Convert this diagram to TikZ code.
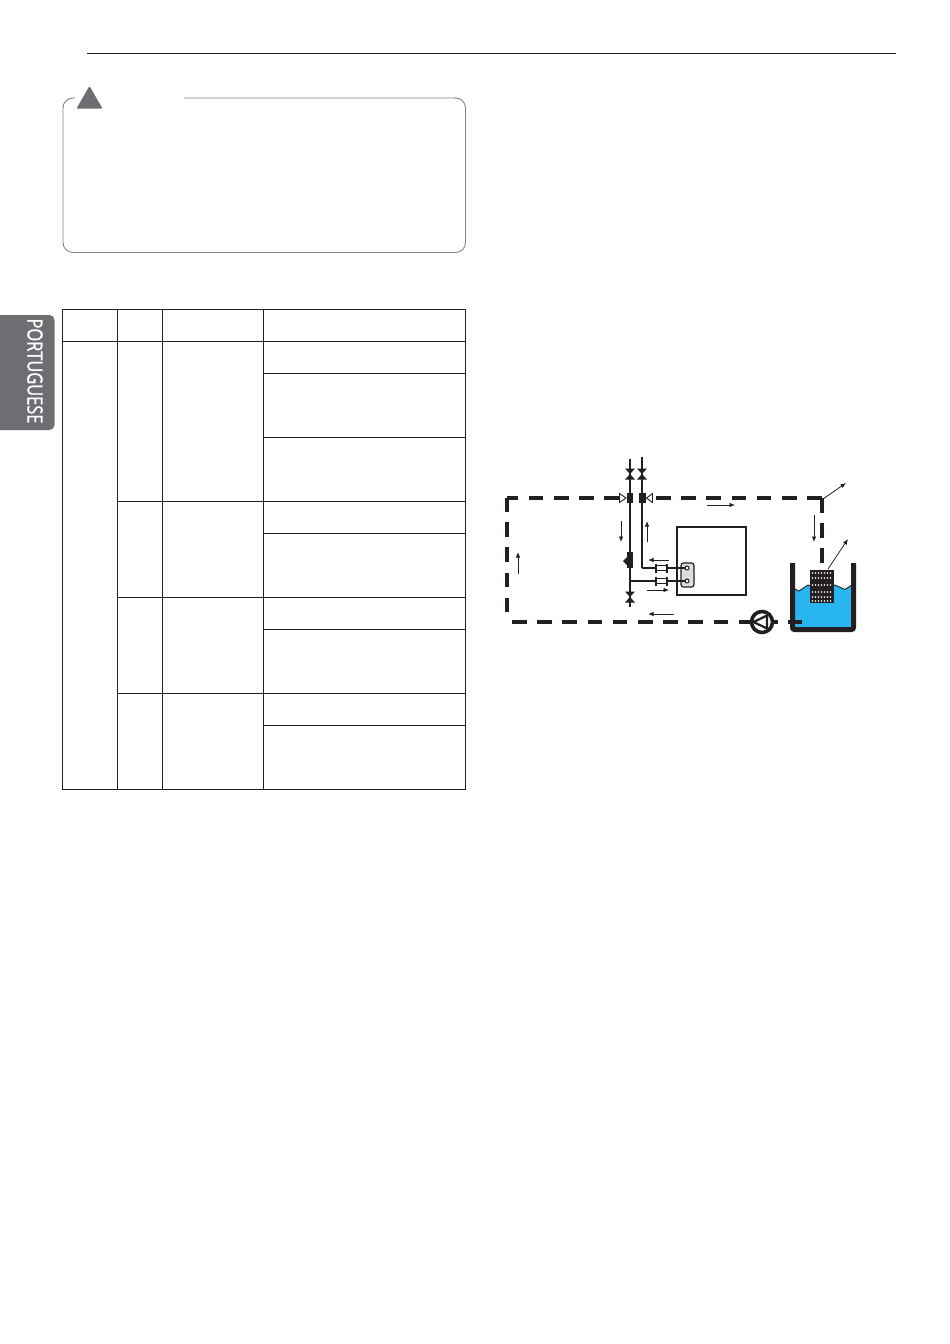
\documentclass[tikz,border=0pt]{standalone}
\usepackage{fontspec}
\setsansfont{Open Sans}
\newfontfamily\tabfont[FakeBold=1.2]{Open Sans}
\definecolor{ink}{HTML}{231F20}
\definecolor{tabgray}{HTML}{6D6E71}
\definecolor{boxdark}{HTML}{808285}
\definecolor{boxlight}{HTML}{D1D3D4}
\definecolor{water}{HTML}{29B6F0}
\usetikzlibrary{arrows.meta}
\tikzset{
  rule/.style={draw=ink,line width=1pt},
  pipe/.style={draw=ink,line width=1.7pt},
  loopline/.style={draw=ink,line width=3.8pt,dash pattern=on 14.6pt off 10.6pt},
  flow/.style={draw=ink,line width=.8pt,-{Latex[length=5.5pt,width=4.5pt]}},
  solidpart/.style={fill=ink,draw=none},
  openvalve/.style={fill=white,draw=ink,line width=.9pt},
}
\begin{document}
\begin{tikzpicture}[x=1pt,y=-1pt]
  \useasboundingbox (0,0) rectangle (950,1344);
  % header and side tab
  \coordinate (ruleL) at (87,53.5);
  \coordinate (ruleR) at (896,53.5);
  \draw[rule] (ruleL) -- (ruleR);
  \fill[tabgray,rounded corners=5] (-8,315) -- (54.5,315) -- (54.5,430) -- (-8,430) -- cycle;
  \node[rotate=-90,text=white,font=\tabfont\fontsize{21}{21}\selectfont] (tab) at (35,371) {\scalebox{.78}[1]{PORTUGUESE}};
  % warning box
  \draw[boxlight,line width=1.4pt] (63,108) -- (63,242);
  \draw[boxlight,line width=1.4pt] (184,98) -- (456,98);
  \draw[boxdark,line width=.9pt,rounded corners=10] (75,98) -- (63,98) -- (63,108);
  \draw[boxdark,line width=.9pt,rounded corners=10] (63,242) -- (63,252.5) -- (465.5,252.5) -- (465.5,98) -- (455,98);
  \fill[tabgray,rounded corners=1] (89.5,86) -- (102.5,108.5) -- (76.5,108.5) -- cycle;
  % table
  \draw[rule] (62.5,309.5) rectangle (465.5,789.5);
  \foreach \colx in {117.5,162.5,263.5} \draw[rule] (\colx,309.5) -- (\colx,789.5);
  \draw[rule] (62.5,341.5) -- (465.5,341.5);
  \foreach \rowy in {501.5,597.5,693.5} \draw[rule] (117.5,\rowy) -- (465.5,\rowy);
  \foreach \rowy in {373.5,437.5,533.5,629.5,725.5} \draw[rule] (263.5,\rowy) -- (465.5,\rowy);
  % water loop
  \coordinate (cornerTL) at (507,498);
  \coordinate (cornerTR) at (822,498);
  \coordinate (leftEnd) at (507,612.6);
  \coordinate (bottomL) at (512,622);
  \coordinate (valveL) at (619,498);
  \coordinate (valveR) at (656,498);
  \coordinate (rightEnd) at (822,563);
  \coordinate (pump) at (762,622);
  \coordinate (pumpOut) at (778,622);
  \coordinate (stubL) at (788,622);
  \coordinate (stubR) at (802,622);
  % tank
  \fill[water] (795,589) -- (799,591) -- (808,585) -- (815,588) -- (825,588) -- (835,585) -- (845,589.5) -- (851,585.5) -- (851,628) -- (795,628) -- cycle;
  \draw[ink,line width=.9pt] (795,589) -- (799,591) -- (808,585) -- (815,588) -- (825,588) -- (835,585) -- (845,589.5) -- (851,585.5);
  \draw[ink,line width=5pt,rounded corners=2] (792.5,563) -- (792.5,629.5) -- (853.5,629.5) -- (853.5,563);
  \fill[ink] (810,570) rectangle (834,603);
  \foreach \doty in {573,578,585,592,597,601}
    \foreach \dotx in {812.5,815.5,...,833}
      \fill[white] (\dotx,\doty) circle (.8);
  \draw[loopline] (valveL) -- (cornerTL);
  \draw[loopline,dash phase=1pt] (cornerTL) -- (leftEnd);
  \draw[loopline] (bottomL) -- (pump);
  \draw[loopline] (valveR) -- (cornerTR);
  \draw[loopline] (cornerTR) -- (rightEnd);
  \draw[draw=ink,line width=3.8pt] (stubL) -- (stubR);
  \draw[draw=ink,line width=3.8pt] (pump) -- (pumpOut);
  % pump
  \draw[draw=ink,fill=white,line width=3.6pt] (pump) circle (10.5);
  \draw[draw=ink,fill=white,line width=2.2pt,line join=round] (753.5,622) -- (767,615.5) -- (767,628.5) -- cycle;
  % pipes
  \coordinate (feedA) at (630,459);
  \coordinate (feedB) at (642,457);
  \coordinate (drainA) at (630,607);
  \coordinate (teeA) at (630,581);
  \coordinate (elbowB) at (642,568);
  \coordinate (portA) at (687,581);
  \coordinate (portB) at (687,568);
  \draw[pipe] (feedA) -- (drainA);
  \draw[pipe] (feedB) -- (elbowB);
  % unit
  \draw[draw=ink,line width=1.5pt] (677,527) rectangle (746,595);
  \draw[draw=ink,fill=ink!15,line width=1.2pt,rounded corners=2.5] (681,563) rectangle (694,587);
  \draw[pipe] (elbowB) -- (portB);
  \draw[pipe] (teeA) -- (portA);
  \foreach \porty in {568,581} {
    \draw[draw=ink,fill=white,line width=1pt] (687,\porty) circle (2);
    \draw[draw=ink,fill=white,line width=1pt] (656,\porty-2.8) rectangle (667,\porty+2.8);
    \fill[ink] (655,\porty-4.5) rectangle (656.8,\porty+4.5);
    \fill[ink] (666.2,\porty-4.5) rectangle (668,\porty+4.5);
  }
  % valves
  \foreach \valvex/\valvey in {630/474,642/474,630/597} {
    \fill[solidpart] (\valvex-5,\valvey-5.5) -- (\valvex+5,\valvey-5.5) -- (\valvex-5,\valvey+5.5) -- (\valvex+5,\valvey+5.5) -- cycle;
  }
  \fill[ink] (626.5,493) rectangle (633,503);
  \fill[ink] (639,493) rectangle (646,503);
  \draw[openvalve] (619.5,493.5) -- (626,498) -- (619.5,502.5) -- cycle;
  \draw[openvalve] (652.5,493.5) -- (646.5,498) -- (652.5,502.5) -- cycle;
  \fill[ink] (627,552) rectangle (633,568);
  \fill[ink] (623,561) -- (628,556) -- (628,566) -- cycle;
  % flow arrows
  \draw[flow] (707,505) -- (735,505);
  \draw[flow] (621,521) -- (621,542);
  \draw[flow] (647,542) -- (647,521);
  \draw[flow] (518,574) -- (518,552);
  \draw[flow] (814,515) -- (814,542);
  \draw[flow] (669,560) -- (648,560);
  \draw[flow] (647,590) -- (669,590);
  \draw[flow] (674,614) -- (648,614);
  \draw[flow] (cornerTR) ++(1,1) -- (846,483);
  \draw[flow] (828,569) -- (848,539);
\end{tikzpicture}
\end{document}
